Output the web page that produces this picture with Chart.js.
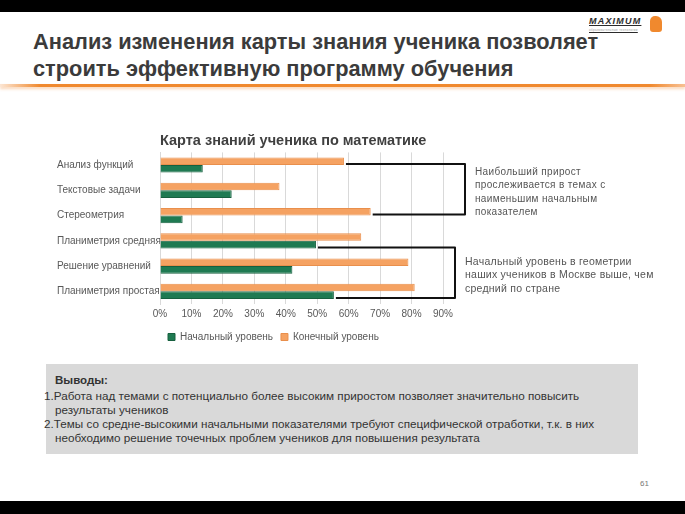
<!DOCTYPE html>
<html><head><meta charset="utf-8">
<script src="https://cdn.jsdelivr.net/npm/chart.js@4.4.1/dist/chart.umd.min.js"></script>
<style>
html,body{margin:0;padding:0;background:#fff;}
body{width:685px;height:514px;position:relative;overflow:hidden;font-family:"Liberation Sans",Arial,sans-serif;}
.band{position:absolute;left:0;width:685px;background:#000;}
#title{position:absolute;left:33px;top:28px;font-weight:bold;font-size:21.8px;line-height:27px;color:#3b3b3b;white-space:nowrap;}
#rule{position:absolute;left:0;top:84px;width:685px;height:3px;background:linear-gradient(to right,rgba(240,130,40,0.2) 0px,#f0892e 40px,#f0892e 650px,rgba(240,130,40,0.5) 685px);box-shadow:0 2px 3px rgba(245,160,90,0.45);}
#logo{position:absolute;left:589px;top:16px;font-size:9px;font-weight:bold;font-style:italic;color:#2b2b2b;text-decoration:underline;letter-spacing:1.2px;line-height:11px;}
#logo small{display:block;font-size:3px;line-height:4px;color:#999;text-decoration:none;font-style:normal;font-weight:normal;margin-top:1px;letter-spacing:0.3px;}
#icon{position:absolute;left:650px;top:16px;width:12px;height:16px;background:#f0892e;border-radius:5px 6px 3px 3px;}
#chartBox{position:absolute;left:40px;top:125px;width:440px;height:232px;}
.note{position:absolute;font-size:10px;line-height:13.3px;color:#555;letter-spacing:0.35px;white-space:nowrap;}
#box{position:absolute;left:46px;top:364px;width:592px;height:90px;background:#d9d9d9;}
.cl{position:absolute;font-size:11.7px;color:#333;white-space:nowrap;line-height:14px;}
#page{position:absolute;left:640px;top:479px;font-size:8px;color:#777;}
</style></head><body>
<div class="band" style="top:0;height:12px"></div>
<div class="band" style="top:501px;height:13px"></div>
<div id="title">Анализ изменения карты знания ученика позволяет<br>строить эффективную программу обучения</div>
<div id="rule"></div>
<div id="logo">MAXIMUM<small>образовательные технологии</small></div>
<div id="icon"></div>
<div id="chartBox"><canvas id="c" width="440" height="232"></canvas></div>
<div class="note" style="left:475px;top:165px">Наибольший прирост<br>прослеживается в темах с<br>наименьшим начальным<br>показателем</div>
<div class="note" style="left:465px;top:255px;font-size:10.5px;letter-spacing:0.25px">Начальный уровень в геометрии<br>наших учеников в Москве выше, чем<br>средний по стране</div>
<div id="box"></div>
<div class="cl" style="left:55px;top:373px;font-weight:bold;font-size:11.5px">Выводы:</div>
<div class="cl" style="left:44px;top:389px">1.Работа над темами с потенциально более высоким приростом позволяет значительно повысить</div>
<div class="cl" style="left:55px;top:403px">результаты учеников</div>
<div class="cl" style="left:44px;top:417px">2.Темы со средне-высокими начальными показателями требуют специфической отработки, т.к. в них</div>
<div class="cl" style="left:55px;top:431px">необходимо решение точечных проблем учеников для повышения результата</div>
<div id="page">61</div>
<script>
const chartTitle = 'Карта знаний ученика по математике';
const categories = ['Анализ функций', 'Текстовые задачи', 'Стереометрия', 'Планиметрия средняя', 'Решение уравнений', 'Планиметрия простая'];
const initialLevel = [0.136, 0.228, 0.072, 0.496, 0.421, 0.553];
const finalLevel = [0.585, 0.38, 0.67, 0.64, 0.79, 0.81];
const seriesNames = ['Начальный уровень', 'Конечный уровень'];
const tickLabels = ['0%', '10%', '20%', '30%', '40%', '50%', '60%', '70%', '80%', '90%'];
const bracketGroups = [
  {dataset: 0, from: 0, to: 2, gap: 22},
  {dataset: 1, from: 3, to: 5, gap: 12}
];

const bracketPlugin = {
  id: 'brackets',
  afterDatasetsDraw(chart) {
    const ctx = chart.ctx;
    const right = chart.chartArea.right;
    ctx.save();
    ctx.strokeStyle = '#111';
    ctx.lineWidth = 2;
    ctx.lineJoin = 'round';
    bracketGroups.forEach(g => {
      const bars = chart.getDatasetMeta(g.dataset).data;
      const a = bars[g.from], b = bars[g.to];
      const ya = a.y + a.height / 2 - 1, yb = b.y + b.height / 2 - 1;
      const xr = right + g.gap;
      ctx.beginPath();
      ctx.moveTo(a.x + 2, ya);
      ctx.lineTo(xr, ya);
      ctx.lineTo(xr, yb);
      ctx.lineTo(b.x + 2, yb);
      ctx.stroke();
    });
    ctx.restore();
  }
};

new Chart(document.getElementById('c'), {
  type: 'bar',
  data: {
    labels: categories,
    datasets: [
      {label: seriesNames[1], data: finalLevel, backgroundColor: '#f5a262', borderColor: '#e98f4c', borderWidth: 1},
      {label: seriesNames[0], data: initialLevel, backgroundColor: '#1f7a52', borderColor: '#17603f', borderWidth: 1}
    ]
  },
  options: {
    indexAxis: 'y',
    responsive: false,
    devicePixelRatio: 1,
    animation: false,
    datasets: {bar: {categoryPercentage: 0.6, barPercentage: 1.0}},
    layout: {padding: {left: 17, right: 37, top: 0, bottom: 5}},
    plugins: {
      title: {
        display: true, text: chartTitle, align: 'start', fullSize: false,
        color: '#404040', font: {family: 'Liberation Sans', size: 14.5, weight: 'bold'},
        padding: {top: 7, bottom: 3}
      },
      legend: {
        position: 'bottom', align: 'start', fullSize: false, reverse: true,
        labels: {boxWidth: 7, boxHeight: 7, padding: 8, color: '#595959', font: {family: 'Liberation Sans', size: 10}}
      },
      tooltip: {enabled: false}
    },
    scales: {
      x: {
        min: 0, max: 0.9,
        ticks: {stepSize: 0.1, padding: 4, color: '#595959', font: {family: 'Liberation Sans', size: 10},
          callback: (v) => tickLabels[Math.round(v * 10)]},
        grid: {color: '#d9d9d9', drawTicks: false},
        border: {display: false}
      },
      y: {
        ticks: {crossAlign: 'far', color: '#595959', font: {family: 'Liberation Sans', size: 10}},
        grid: {display: false},
        border: {color: '#d9d9d9'},
        afterFit: (s) => { s.width = 103; }
      }
    }
  },
  plugins: [bracketPlugin]
});
</script>
</body></html>
